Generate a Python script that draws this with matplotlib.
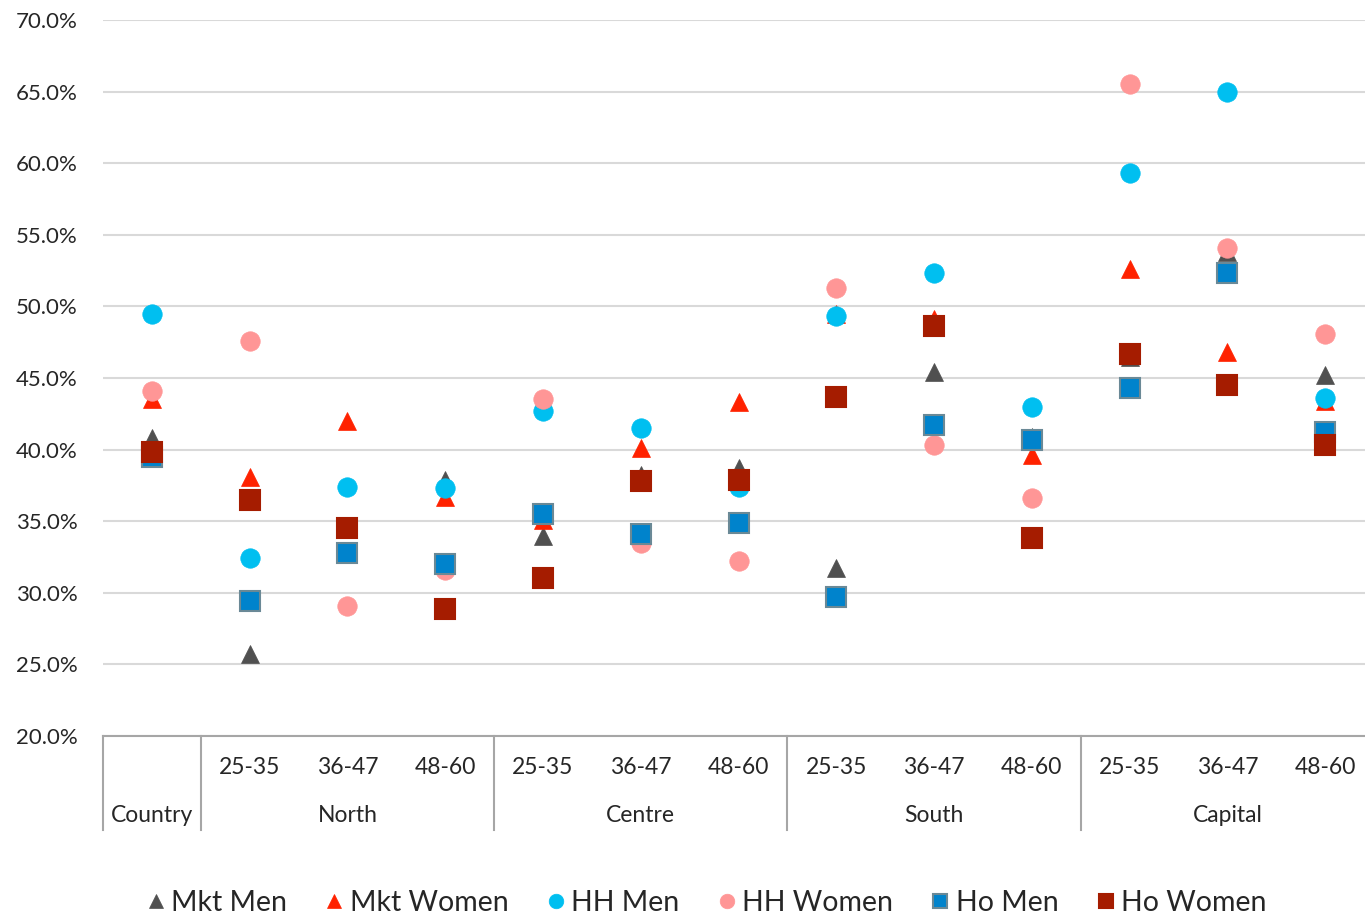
import matplotlib
matplotlib.use("Agg")
import matplotlib.pyplot as plt
from matplotlib.transforms import blended_transform_factory
from matplotlib.ticker import FuncFormatter

plt.rcParams['font.family'] = ['Lato', 'DejaVu Sans']

# category layout: first column is the whole country, then 3 age bands per region
age_labels = ["", "25-35", "36-47", "48-60", "25-35", "36-47", "48-60",
              "25-35", "36-47", "48-60", "25-35", "36-47", "48-60"]
regions = ["Country", "North", "Centre", "South", "Capital"]
region_spans = [(0, 0), (1, 3), (4, 6), (7, 9), (10, 12)]

mkt_men = [40.8, 25.7, 34.6, 37.9, 34.0, 38.2, 38.7, 31.7, 45.4, 40.9, 46.5, 53.8, 45.2]
mkt_women = [43.5, 38.1, 42.0, 36.7, 35.1, 40.1, 43.3, 49.5, 49.1, 39.6, 52.6, 46.8, 43.4]
hh_men = [49.5, 32.4, 37.4, 37.3, 42.7, 41.5, 37.4, 49.3, 52.3, 43.0, 59.3, 65.0, 43.6]
hh_women = [44.1, 47.6, 29.1, 31.6, 43.5, 33.5, 32.2, 51.3, 40.3, 36.6, 65.5, 54.1, 48.1]
ho_men = [39.5, 29.4, 32.8, 32.0, 35.5, 34.1, 34.9, 29.7, 41.7, 40.7, 44.3, 52.3, 41.2]
ho_women = [39.8, 36.5, 34.5, 28.9, 31.0, 37.8, 37.9, 43.7, 48.6, 33.8, 46.7, 44.5, 40.3]

series = [
    ("Mkt Men", mkt_men, "^", "#505050", "#505050"),
    ("Mkt Women", mkt_women, "^", "#FF2200", "#FF2200"),
    ("HH Men", hh_men, "o", "#00BFF0", "#00BFF0"),
    ("HH Women", hh_women, "o", "#FF9696", "#FF9696"),
    ("Ho Men", ho_men, "s", "#0083CC", "#6A8996"),
    ("Ho Women", ho_women, "s", "#A51C00", "#A51C00"),
]

W, H = 1365, 916
fig = plt.figure(figsize=(W / 100, H / 100), dpi=100)
# plot area runs a little past the right edge of the canvas
ax = fig.add_axes([103 / W, (H - 736) / H, 1271 / W, (736 - 20) / H])

x = list(range(len(age_labels)))
handles = []
for name, vals, mk, fc, ec in series:
    ms = 14 if mk != "^" else 13
    h, = ax.plot(x, vals, linestyle="none", marker=mk, markersize=ms,
                 markerfacecolor=fc, markeredgecolor=ec,
                 markeredgewidth=1.5 if mk == "s" else 0.5, label=name, zorder=3)
    handles.append(h)

ax.set_xlim(-0.5, len(age_labels) - 0.5)
ax.set_ylim(20, 70)
ax.set_yticks(range(20, 71, 5))
ax.yaxis.set_major_formatter(FuncFormatter(lambda v, p: f"{v:.1f}%"))
ax.tick_params(axis="y", length=0, pad=18, labelsize=16, labelcolor="#262626")
ax.set_xticks([])
ax.grid(axis="y", color="#D9D9D9", linewidth=1.5, zorder=0)
for s in ["top", "right", "left"]:
    ax.spines[s].set_visible(False)
ax.spines["bottom"].set_color("#A6A6A6")
ax.spines["bottom"].set_linewidth(1.5)
ax.spines["bottom"].set_zorder(4)

# two-row category axis drawn below the plot
trans = blended_transform_factory(ax.transData, fig.transFigure)
for i, lab in enumerate(age_labels):
    if lab:
        ax.text(i, 1 - 768 / H, lab, transform=trans, ha="center", va="center",
                fontsize=16.5, color="#262626", clip_on=False)
for name, (a, b) in zip(regions, region_spans):
    ax.text((a + b) / 2, 1 - 816 / H, name, transform=trans, ha="center",
            va="center", fontsize=16.5, color="#262626", clip_on=False)
for xb in [-0.5, 0.5, 3.5, 6.5, 9.5]:
    ax.plot([xb, xb], [1 - 736 / H, 1 - 830 / H], transform=trans,
            color="#A6A6A6", linewidth=1.5, clip_on=False)

leg = fig.legend(handles=handles, loc="center", bbox_to_anchor=(0.518, 1 - 903 / H),
                 ncol=6, frameon=False, fontsize=20.5, markerscale=0.75,
                 handlelength=0.6, handletextpad=0.25, columnspacing=1.35)
for t in leg.get_texts():
    t.set_color("#262626")

fig.savefig("out.png", dpi=100)
